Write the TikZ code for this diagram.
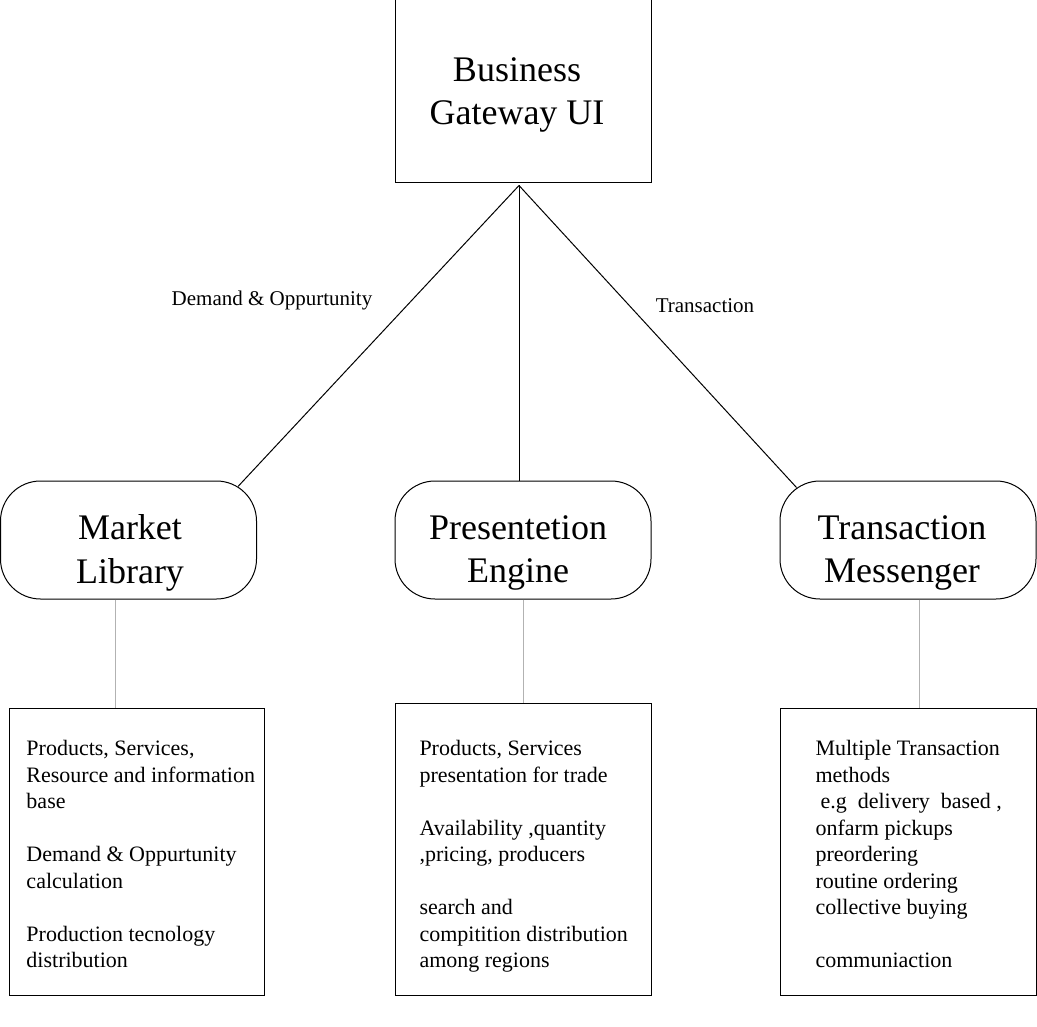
\documentclass[tikz,border=0pt]{standalone}
\usepackage{fontspec}
\setmainfont{Liberation Serif}
\usetikzlibrary{calc}
\begin{document}
\begin{tikzpicture}[x=1pt,y=-1pt,
  line width=1pt,
  bigtext/.style={font=\fontsize{36}{43.5}\selectfont, align=center, inner sep=0pt},
  toptbox/.style={draw, rectangle, minimum width=256pt, minimum height=183pt, inner sep=0pt},
  roundbox/.style={draw, rectangle, rounded corners=40pt, minimum width=256pt, minimum height=118pt, inner sep=0pt},
  listbox/.style={draw, rectangle, minimum width=255pt, inner sep=0pt},
  listtext/.style={font=\fontsize{22}{26.5}\selectfont, align=left, inner sep=0pt, anchor=north west},
  edgelabel/.style={font=\fontsize{21}{25}\selectfont, inner sep=0pt},
  link/.style={draw=black, line width=1pt},
  sublink/.style={draw=black!30, line width=1pt}
]
\useasboundingbox (0,0) rectangle (1037,1027);

% top box
\node[toptbox] (top) at (523,91.5) {};
\node[bigtext] (toptext) at (517,95) {Business\\Gateway UI};

% rounded boxes
\node[roundbox] (ml) at (128.5,540) {};
\node[roundbox] (pe) at (523,540) {};
\node[roundbox] (tm) at (908,540) {};
\node[bigtext] (mltext) at (130,553) {Market\\Library};
\node[bigtext] (petext) at (518,553) {Presentetion\\Engine};
\node[bigtext] (tmtext) at (902,553) {Transaction\\Messenger};

% connectors from top
\coordinate (topc) at ($(top.south)+(-4,2)$);
\coordinate (mlc) at ($(ml.north east)+(-19,6)$);
\coordinate (pec) at ($(pe.north)+(-4,0)$);
\coordinate (tmc) at ($(tm.north west)+(17,7)$);
\draw[link] (topc) -- (mlc);
\draw[link] (topc) -- (pec);
\draw[link] (topc) -- (tmc);

\node[edgelabel] (lbl1) at (272,300) {Demand \& Oppurtunity};
\node[edgelabel] (lbl2) at (705,306) {Transaction};

% bottom boxes
\node[listbox, minimum height=287pt] (mlb) at (136.5,851.5) {};
\node[listbox, minimum width=256pt, minimum height=292pt] (peb) at (523,849) {};
\node[listbox, minimum width=256pt, minimum height=287pt] (tmb) at (908,851.5) {};

\coordinate (mls) at ($(ml.south)+(-13.5,0)$);
\coordinate (tms) at ($(tm.south)+(11,0)$);
\draw[sublink] (mls) -- (mls |- mlb.north);
\draw[sublink] (pe.south) -- (pe.south |- peb.north);
\draw[sublink] (tms) -- (tms |- tmb.north);

\node[listtext] (mlt) at (26,740) {Products, Services,\\Resource and information\\base\\[26.5pt]Demand \& Oppurtunity\\calculation\\[26.5pt]Production tecnology\\distribution};
\node[listtext] (pet) at (419,740) {Products, Services\\presentation for trade\\[26.5pt]Availability ,quantity\\,pricing, producers\\[26.5pt]search and\\compitition distribution\\among regions};
\node[listtext] (tmt) at (815,740) {Multiple Transaction\\methods\\\hspace*{5pt}e.g\ \ delivery\ \ based ,\\onfarm pickups\\preordering\\routine ordering\\collective buying\\[26.5pt]communiaction};
\end{tikzpicture}
\end{document}
